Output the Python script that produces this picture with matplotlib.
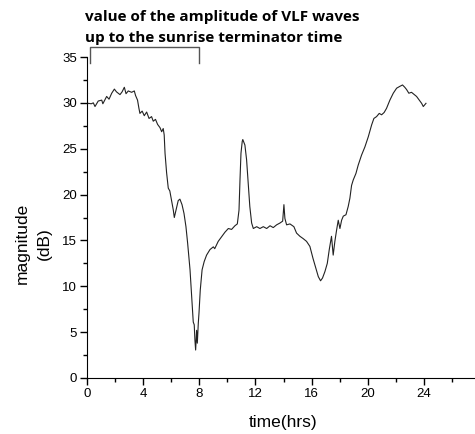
import matplotlib
matplotlib.use("Agg")
import matplotlib.pyplot as plt
from matplotlib.ticker import MultipleLocator

plt.rcParams["font.family"] = ["Liberation Sans", "DejaVu Sans"]

# time (hrs) and VLF amplitude (dB)
time_hrs = [
    0.0, 0.09, 0.3, 0.45, 0.57, 0.8, 1.05, 1.13, 1.4, 1.57, 1.76, 1.95, 2.1,
    2.35, 2.5, 2.66, 2.78, 2.94, 3.18, 3.37, 3.46, 3.6, 3.7, 3.77, 3.93, 4.08,
    4.25, 4.42, 4.6, 4.72, 4.88, 5.03, 5.2, 5.32, 5.43, 5.5, 5.56, 5.67, 5.79,
    5.9, 6.03, 6.15, 6.22, 6.34, 6.5, 6.62, 6.77, 6.91, 7.05, 7.17, 7.34, 7.5,
    7.57, 7.64, 7.69, 7.74, 7.81, 7.86, 7.93, 7.98, 8.07, 8.2, 8.35, 8.52,
    8.76, 9.0, 9.1, 9.35, 9.59, 9.83, 10.07, 10.3, 10.54, 10.71, 10.83, 10.9,
    10.97, 11.06, 11.1, 11.25, 11.37, 11.49, 11.6, 11.73, 11.85, 12.09, 12.32,
    12.56, 12.8, 13.04, 13.27, 13.51, 13.75, 13.94, 14.03, 14.1, 14.22, 14.46,
    14.74, 14.93, 15.17, 15.4, 15.64, 15.88, 16.1, 16.31, 16.48, 16.64, 16.78,
    16.95, 17.12, 17.26, 17.42, 17.54, 17.66, 17.78, 17.9, 18.02, 18.14,
    18.26, 18.45, 18.61, 18.73, 18.85, 18.97, 19.16, 19.32, 19.56, 19.8,
    20.04, 20.28, 20.44, 20.63, 20.82, 20.99, 21.17, 21.34, 21.58, 21.82,
    22.06, 22.29, 22.48, 22.64, 22.77, 22.93, 23.12, 23.28, 23.48, 23.67,
    23.84, 23.96, 24.07, 24.15,
]
magnitude_db = [
    29.8, 29.95, 29.9, 30.0, 29.6, 30.2, 30.3, 29.9, 30.7, 30.4, 31.05, 31.5,
    31.2, 30.9, 31.2, 31.7, 31.0, 31.3, 31.15, 31.3, 30.8, 30.3, 29.4, 28.85,
    29.1, 28.6, 29.0, 28.3, 28.5, 28.0, 28.2, 27.65, 27.3, 26.85, 27.2, 26.5,
    24.5, 22.4, 20.7, 20.4, 19.3, 18.3, 17.5, 18.3, 19.35, 19.5, 18.9, 17.95,
    16.5, 14.7, 11.8, 7.8, 6.1, 5.8, 4.1, 3.05, 5.2, 3.8, 6.0, 7.1, 9.6, 11.8,
    12.7, 13.4, 14.0, 14.3, 14.1, 14.9, 15.4, 15.9, 16.3, 16.2, 16.6, 16.8,
    18.3, 21.6, 24.5, 25.8, 26.0, 25.4, 23.8, 21.2, 18.7, 16.9, 16.3, 16.5,
    16.3, 16.5, 16.3, 16.6, 16.4, 16.7, 16.9, 17.1, 18.9, 17.4, 16.7, 16.8,
    16.5, 15.8, 15.45, 15.2, 14.9, 14.35, 13.05, 11.95, 11.05, 10.6, 10.9,
    11.6, 12.5, 14.0, 15.45, 13.4, 14.9, 16.1, 17.2, 16.3, 17.2, 17.65, 17.8,
    18.7, 19.6, 21.0, 21.6, 22.3, 23.2, 24.3, 25.2, 26.3, 27.6, 28.3, 28.5,
    28.85, 28.7, 28.95, 29.4, 30.3, 31.05, 31.6, 31.8, 31.95, 31.7, 31.45,
    31.05, 31.15, 30.95, 30.7, 30.3, 29.95, 29.6, 29.8, 29.95,
]

# bracket marking the period up to the sunrise terminator
bracket_start, bracket_end = 0.2, 8.0
bracket_top, bracket_bottom = 36.1, 34.35

fig = plt.figure(figsize=(4.75, 4.34), dpi=100)
ax = fig.add_axes([87 / 475, 56 / 434, 393 / 475, 321 / 434])

ax.plot(time_hrs, magnitude_db, color="#222222", lw=0.8)

ax.set_xlim(0, 28)
ax.set_ylim(0, 35)
ax.xaxis.set_major_locator(MultipleLocator(4))
ax.xaxis.set_minor_locator(MultipleLocator(2))
ax.yaxis.set_major_locator(MultipleLocator(5))
ax.yaxis.set_minor_locator(MultipleLocator(2.5))
ax.set_xticks([0, 4, 8, 12, 16, 20, 24])
ax.tick_params(which="major", direction="out", length=5, width=1, labelsize=9.5, pad=2)
ax.tick_params(which="minor", direction="out", length=3, width=1)

for side in ["top", "right"]:
    ax.spines[side].set_visible(False)

ax.set_xlabel("time(hrs)", fontsize=12.5)
ax.xaxis.set_label_coords(0.5, -0.115)
ax.set_ylabel("magnitude\n(dB)", fontsize=12.5, linespacing=1.6)
ax.yaxis.set_label_coords(-0.089, 0.42)

ax.plot([bracket_start, bracket_start, bracket_end, bracket_end],
        [bracket_bottom, bracket_top, bracket_top, bracket_bottom],
        color="#555555", lw=1, clip_on=False)

fig.text(85 / 475, 1 - 10 / 434, "value of the amplitude of VLF waves\nup to the sunrise terminator time",
         family=["Open Sans", "DejaVu Sans"], fontweight="bold", fontsize=11,
         va="top", ha="left", linespacing=1.6)

fig.savefig("out.png", dpi=100)
